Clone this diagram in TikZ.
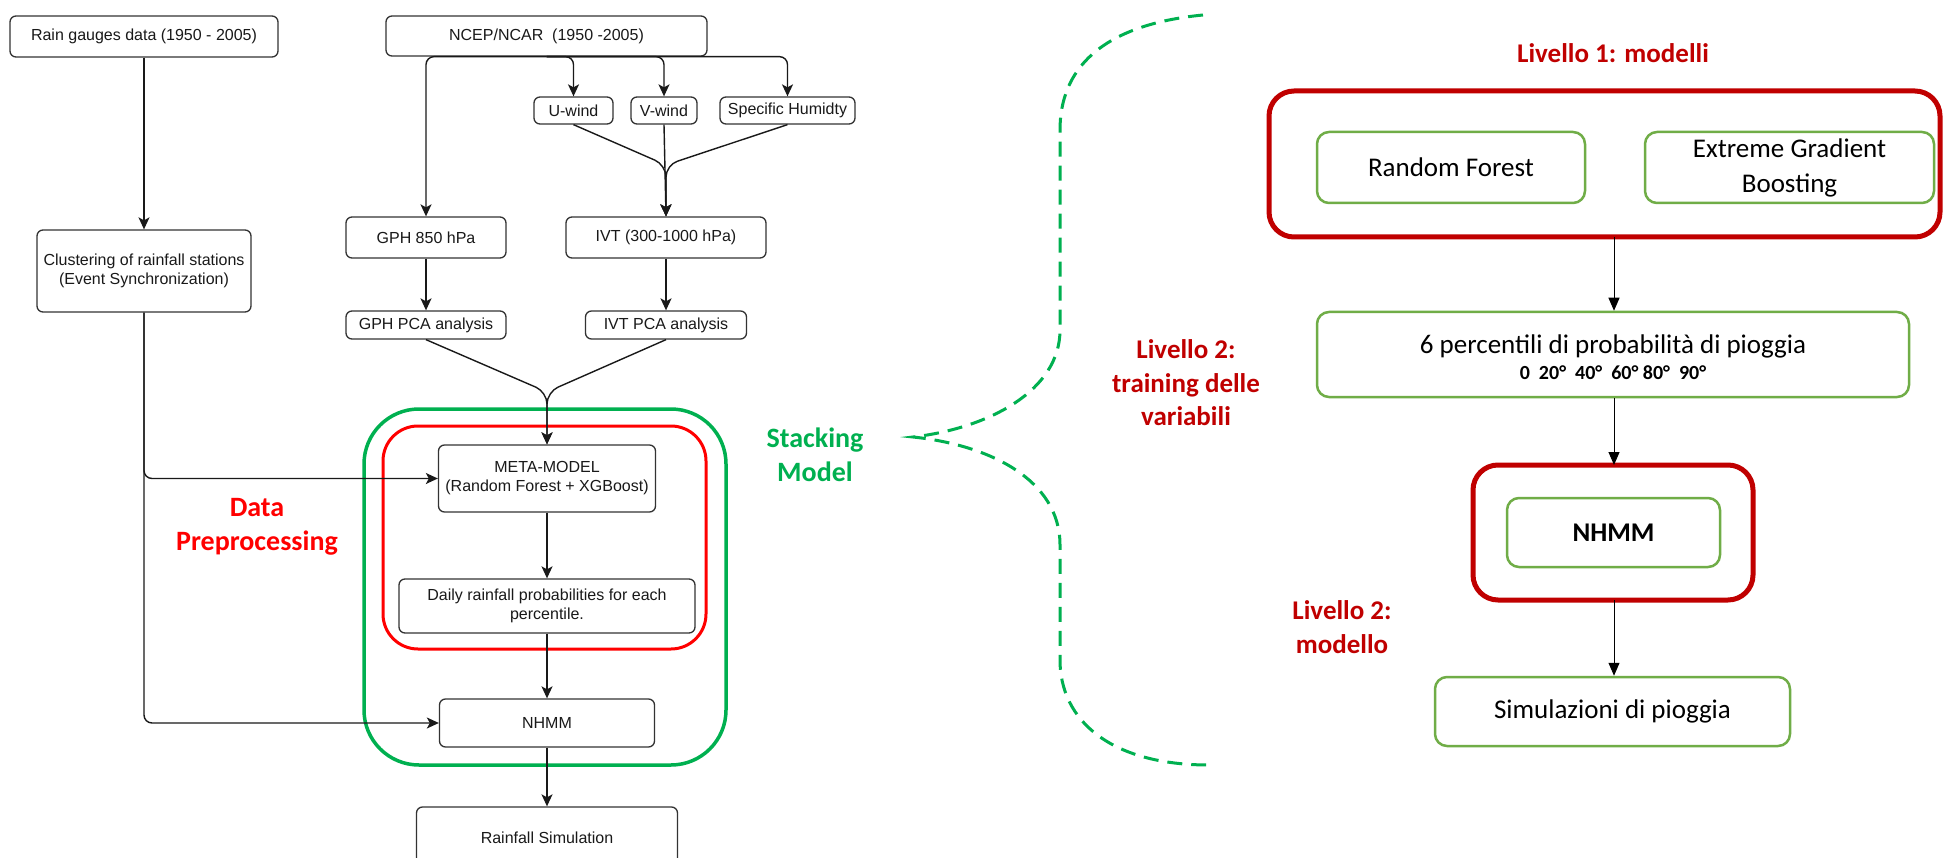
\documentclass[tikz,border=0pt]{standalone}
\usepackage{fontspec}
\usetikzlibrary{arrows.meta}
\newfontfamily\arialf{Liberation Sans}
\newfontfamily\calib{Carlito}
\definecolor{stackgreen}{HTML}{00B050}
\definecolor{prered}{HTML}{FF0000}
\definecolor{lvred}{HTML}{C00000}
\definecolor{boxgreen}{HTML}{70AD47}
\definecolor{flowgray}{HTML}{333333}

\begin{document}
\begin{tikzpicture}[x=1pt,y=-1pt,
  flow/.style={draw=flowgray, line width=1.3pt, rounded corners=6pt, fill=white,
    align=center, inner sep=0pt, text=black!90,
    font=\arialf\fontsize{16}{19}\selectfont},
  arr/.style={draw=black!90, line width=1.4pt, -{Stealth[length=12pt,width=11pt,inset=3pt]}},
  gbox/.style={draw=boxgreen, line width=2.5pt, rounded corners=12pt, fill=white,
    align=center, inner sep=0pt, font=\calib\fontsize{27}{34}\selectfont},
  rarr/.style={draw=black, line width=1pt, -{Triangle[length=13pt,width=11pt]}},
  redlabel/.style={text=lvred, align=center, font=\calib\bfseries\fontsize{27}{33.5}\selectfont},
  biglabel/.style={align=center, font=\calib\bfseries\fontsize{28}{34}\selectfont}
]
\useasboundingbox (0,0) rectangle (1943,858);
\fill[white] (0,0) rectangle (1943,858);

% ---------- left flowchart: containers ----------
\draw[stackgreen, line width=3.5pt, rounded corners=55pt] (364,409) rectangle (726,765);
\draw[prered, line width=3pt, rounded corners=35pt] (383,426) rectangle (706,649);

% ---------- left flowchart: boxes ----------
\node[flow, minimum width=268pt, minimum height=41pt] (rain) at (144,36.5) {Rain gauges data (1950 - 2005)};
\node[flow, minimum width=321pt, minimum height=40pt] (ncep) at (546.5,36) {NCEP/NCAR\ \ (1950 -2005)};
\node[flow, minimum width=79pt, minimum height=27pt] (uwind) at (573.5,110.5) {U-wind};
\node[flow, minimum width=66pt, minimum height=27pt] (vwind) at (664,110.5) {V-wind};
\node[flow, minimum width=135pt, minimum height=27pt] (spec) at (787.5,110.5) {Specific Humidty};
\node[flow, minimum width=160pt, minimum height=41pt] (gph) at (426,237.5) {GPH 850 hPa};
\node[flow, minimum width=200pt, minimum height=41pt] (ivt) at (666,237.5) {IVT (300-1000 hPa)};
\node[flow, minimum width=214pt, minimum height=82pt] (clus) at (144,271) {Clustering of rainfall stations\\(Event Synchronization)};
\node[flow, minimum width=160pt, minimum height=28pt] (gphpca) at (426,325) {GPH PCA analysis};
\node[flow, minimum width=161pt, minimum height=28pt] (ivtpca) at (666,325) {IVT PCA analysis};
\node[flow, minimum width=217pt, minimum height=67pt] (meta) at (547,478.5) {META-MODEL\\(Random Forest + XGBoost)};
\node[flow, minimum width=296pt, minimum height=54pt] (daily) at (547,606) {Daily rainfall probabilities for each\\percentile.};
\node[flow, minimum width=215pt, minimum height=48pt] (nhmm) at (547,723) {NHMM};
\node[flow, minimum width=261pt, minimum height=62pt] (rsim) at (547,838) {Rainfall Simulation};

% ---------- left flowchart: connectors ----------
\draw[arr] (rain) -- (clus);
\draw[arr, rounded corners=8pt] (ncep.south) -| (gph.north);
\draw[arr, rounded corners=8pt] (ncep.south) -| (uwind.north);
\draw[arr, rounded corners=8pt] (ncep.south) -| (vwind.north);
\draw[arr, rounded corners=8pt] (ncep.south) -| (spec.north);
\draw[arr, rounded corners=12pt] (uwind.south) -- (666,165) -- (ivt.north);
\draw[arr] (vwind.south) -- (ivt.north);
\draw[arr, rounded corners=12pt] (spec.south) -- (666,165) -- (ivt.north);
\draw[arr] (gph) -- (gphpca);
\draw[arr] (ivt) -- (ivtpca);
\draw[arr, rounded corners=12pt] (gphpca.south) -- (547,392) -- (meta.north);
\draw[arr, rounded corners=12pt] (ivtpca.south) -- (547,392) -- (meta.north);
\draw[arr, rounded corners=8pt] (clus.south) |- (meta.west);
\draw[arr, rounded corners=8pt] (clus.south) |- (nhmm.west);
\draw[arr] (meta) -- (daily);
\draw[arr] (daily) -- (nhmm);
\draw[arr] (nhmm) -- (rsim);

% ---------- left labels ----------
\node[biglabel, text=prered] (prep) at (257,527) {Data\\Preprocessing};
\node[biglabel, text=stackgreen] (stack) at (815,455) {Stacking\\Model};

% ---------- dashed brace ----------
\draw[stackgreen, line width=3pt, dash pattern=on 15pt off 9pt]
  (1203,15) .. controls (1100,25) and (1060,70) .. (1060,130)
  -- (1060,330) .. controls (1060,390) and (990,428) .. (913,437)
  .. controls (990,445) and (1060,480) .. (1060,545)
  -- (1060,660) .. controls (1060,720) and (1110,765) .. (1209,765);

% ---------- right scheme ----------
\node[redlabel] (liv1) at (1613,53) {Livello 1: modelli};
\draw[lvred, line width=5pt, rounded corners=25pt] (1269,91) rectangle (1940,237);
\coordinate (lv1bot) at (1614,237);
\node[gbox, minimum width=268pt, minimum height=71pt] (rf) at (1451,167.5) {Random Forest};
\node[gbox, minimum width=289pt, minimum height=71pt] (xgb) at (1789.5,167.5) {Extreme Gradient\\[1pt]Boosting};

\node[gbox, minimum width=592pt, minimum height=85pt] (pct) at (1613,354.5) {};
\node[font=\calib\fontsize{27}{33}\selectfont, anchor=base] (pcta) at (1613,354) {6 percentili di probabilità di pioggia};
\node[font=\calib\bfseries\fontsize{20}{24}\selectfont, anchor=base] (pctb) at (1613,379.5) {0\ \ 20°\ \ 40°\ \ 60° 80°\ \ 90°};

\node[redlabel] (liv2) at (1186,383) {Livello 2:\\training delle\\variabili};

\draw[lvred, line width=5pt, rounded corners=25pt] (1473,465) rectangle (1753,600);
\coordinate (lv2top) at (1614,465);
\coordinate (lv2bot) at (1614,600);
\node[gbox, minimum width=213pt, minimum height=69pt, font=\calib\bfseries\fontsize{27}{33}\selectfont] (nhmmr) at (1613.5,532.5) {NHMM};

\node[redlabel] (liv3) at (1342,627) {Livello 2:\\modello};

\node[gbox, minimum width=355pt, minimum height=69pt] (sim) at (1612.5,711.5) {Simulazioni di pioggia};

\draw[rarr] (lv1bot) -- (pct.north -| lv1bot);
\draw[rarr] (pct.south -| lv2top) -- (lv2top);
\draw[rarr] (lv2bot) -- (sim.north -| lv2bot);
\end{tikzpicture}
\end{document}
